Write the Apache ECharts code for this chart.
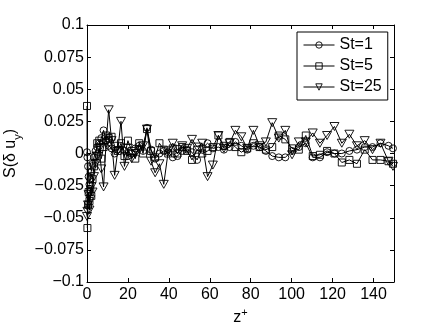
<!DOCTYPE html>
<html>
<head>
<meta charset="utf-8">
<script src="https://cdn.jsdelivr.net/npm/echarts@6/dist/echarts.min.js"></script>
<style>
  html, body { margin: 0; padding: 0; background: #fff; }
  #chart { width: 436px; height: 327px; }
</style>
</head>
<body>
<div id="chart"></div>
<script>
// wall-normal positions (z+), denser near the wall
const zPlus = [0, 0.2, 0.5, 0.8, 1.2, 1.6, 2.1, 2.7, 3.4, 4.2, 5.0, 6.0, 7.0, 8.1, 9.3, 10.6,
  12.0, 13.5, 15.0, 16.6, 18.3, 20.0, 21.8, 23.6, 25.5, 27.4, 29.3, 31.3, 33.3, 35.4, 37.5,
  39.7, 41.9, 44.2, 46.5, 48.9, 51.3, 53.8, 56.3, 58.9, 61.5, 64.2, 66.9, 69.7, 72.5, 75.4,
  78.3, 81.3, 84.3, 87.4, 90.5, 93.7, 96.9, 100.2, 103.5, 106.9, 110.3, 113.8, 117.3, 120.9,
  124.5, 128.2, 131.9, 135.7, 139.5, 143.4, 147.3, 149.5];

// S(δu_y) for each Stokes number
const st1 = [0.001, -0.003, -0.010, -0.018, -0.024, -0.020, -0.014, -0.008, -0.003, 0.002, 0.005,
  0.008, 0.012, 0.018, 0.010, 0.006, 0.004, 0.000, 0.003, 0.006, 0.002, -0.002, 0.000, 0.004,
  0.006, 0.002, 0.020, 0.003, -0.004, 0.000, 0.002, 0.001, -0.003, -0.002, 0.002, 0.003, 0.001,
  -0.005, 0.004, 0.008, 0.004, 0.005, 0.003, 0.005, 0.009, 0.006, 0.003, 0.006, 0.005, 0.002,
  -0.002, -0.003, -0.003, 0.002, 0.005, 0.008, -0.003, -0.003, 0.001, 0.000, 0.000, 0.002,
  0.003, 0.005, 0.005, 0.008, 0.006, 0.004];
const st5 = [0.037, -0.058, -0.040, -0.030, -0.037, -0.028, -0.033, -0.020, -0.010, -0.002, 0.008,
  0.010, -0.004, 0.005, 0.014, 0.012, 0.013, 0.006, 0.002, 0.008, -0.002, 0.010, 0.002, -0.004,
  0.008, 0.000, 0.019, 0.002, -0.003, 0.008, 0.003, 0.000, 0.004, 0.000, 0.005, 0.002, -0.005,
  0.003, 0.000, 0.002, 0.005, 0.014, 0.006, 0.009, 0.005, 0.001, 0.004, 0.008, 0.005, 0.003,
  0.005, 0.014, 0.011, 0.004, 0.003, 0.014, -0.002, -0.001, 0.002, 0.000, -0.007, -0.005,
  -0.008, 0.003, -0.005, -0.005, -0.006, -0.008];
const st25 = [-0.049, -0.045, -0.040, -0.032, -0.044, -0.036, -0.026, -0.030, -0.018, -0.008, -0.002,
  0.004, -0.012, -0.026, 0.008, 0.034, 0.010, -0.017, 0.002, 0.025, -0.010, 0.004, -0.004, 0.000,
  0.003, 0.006, 0.019, -0.006, -0.015, -0.008, -0.024, 0.002, 0.008, 0.003, 0.006, 0.004, 0.011,
  0.005, 0.008, -0.018, -0.009, 0.014, 0.004, 0.008, 0.018, 0.013, 0.004, 0.018, 0.006, 0.009,
  0.024, 0.012, 0.018, -0.001, 0.009, 0.009, 0.016, 0.008, 0.014, 0.021, 0.008, 0.015, 0.006,
  0.010, 0.003, 0.008, -0.006, -0.010];

const seriesNames = ["St=1", "St=5", "St=25"];

const font = "'Liberation Sans', Arial, Helvetica, sans-serif";

function pairs(vals) {
  return zPlus.map((z, i) => [z, vals[i]]);
}

function makeSeries(name, vals, symbol, rotate) {
  return {
    name: name,
    type: "line",
    data: pairs(vals),
    symbol: symbol,
    symbolSize: symbol === "triangle" ? [9, 8] : 7,
    symbolRotate: rotate,
    showAllSymbol: true,
    lineStyle: { color: "#000", width: 1 },
    itemStyle: { color: "rgba(255,255,255,0)", borderColor: "#000", borderWidth: 0.9 },
    emphasis: { disabled: true },
    animation: false,
  };
}

const chart = echarts.init(document.getElementById("chart"));

const axisCommon = {
  axisLine: { show: true, onZero: false, lineStyle: { color: "#000", width: 1 } },
  axisTick: { show: true, inside: true, length: 4, lineStyle: { color: "#000" } },
  splitLine: { show: false },
};

const option = {
  backgroundColor: "#fff",
  animation: false,
  grid: { left: 87, right: 42, top: 25, bottom: 45, containLabel: false, outerBoundsMode: "none" },
  xAxis: [
    {
      ...axisCommon,
      type: "value",
      min: 0, max: 150, interval: 20,
      axisLabel: { color: "#000", fontSize: 16, fontFamily: font, margin: 5, showMaxLabel: false },
      name: "{b|z}{s|+}",
      nameLocation: "middle",
      nameGap: 17,
      nameTextStyle: {
        rich: {
          b: { fontSize: 16, fontFamily: font, color: "#000", verticalAlign: "bottom", lineHeight: 18 },
          s: { fontSize: 11, fontFamily: font, color: "#000", verticalAlign: "top", lineHeight: 18 },
        },
      },
    },
    {
      ...axisCommon,
      type: "value",
      position: "top",
      min: 0, max: 150, interval: 20,
      axisLabel: { show: false },
    },
  ],
  yAxis: [
    {
      ...axisCommon,
      type: "value",
      min: -0.1, max: 0.1, interval: 0.025,
      axisLabel: {
        color: "#000", fontSize: 16, fontFamily: font, margin: 3,
        formatter: (v) => String(Number(v.toFixed(3))).replace("-", "\u2212"),
      },
      name: "{b|S(δ u}{s|y}{b|)}",
      nameLocation: "middle",
      nameGap: 64,
      nameRotate: 90,
      nameTextStyle: {
        rich: {
          b: { fontSize: 16, fontFamily: font, color: "#000", verticalAlign: "top", lineHeight: 20 },
          s: { fontSize: 11, fontFamily: font, color: "#000", verticalAlign: "bottom", lineHeight: 20 },
        },
      },
    },
    {
      ...axisCommon,
      type: "value",
      position: "right",
      min: -0.1, max: 0.1, interval: 0.025,
      axisLabel: { show: false },
    },
  ],
  legend: {
    data: seriesNames,
    orient: "vertical",
    left: 297,
    top: 32,
    padding: [5, 6, 5, 6],
    itemGap: 5,
    itemWidth: 31,
    itemHeight: 8,
    backgroundColor: "#fff",
    borderColor: "#000",
    borderWidth: 1,
    borderRadius: 0,
    lineStyle: { width: 1 },
    itemStyle: { borderWidth: 0.9 },
    textStyle: { color: "#000", fontSize: 16, fontFamily: font },
  },
  series: [
    makeSeries(seriesNames[0], st1, "circle", 0),
    makeSeries(seriesNames[1], st5, "rect", 0),
    makeSeries(seriesNames[2], st25, "triangle", 180),
  ],
};

chart.setOption(option);
</script>
</body>
</html>
